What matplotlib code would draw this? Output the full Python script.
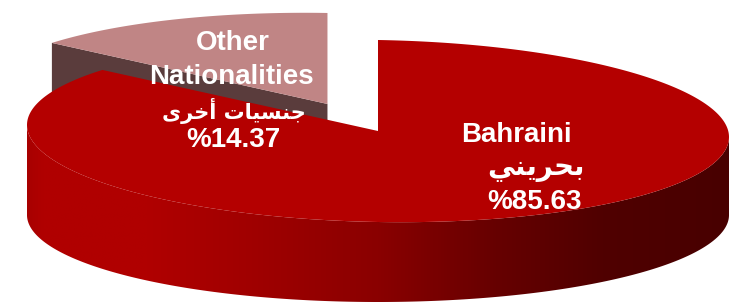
"""3D style pie of population share by nationality (Bahraini vs other)."""

from __future__ import annotations

import numpy as np
import matplotlib

matplotlib.use("Agg")
import matplotlib.pyplot as plt
from matplotlib.colors import LinearSegmentedColormap
from matplotlib.patches import Polygon

labels_en = ["Bahraini", "Other\nNationalities"]
labels_ar = ["بحريني", "جنسيات أخرى"]
shares = [85.63, 14.37]
explode = [0.0, 0.33]

# Arabic shaping: (isolated, final, initial, medial) presentation forms
FORMS = {
    "ا": ("\ufe8d", "\ufe8e", None, None),
    "أ": ("\ufe83", "\ufe84", None, None),
    "ب": ("\ufe8f", "\ufe90", "\ufe91", "\ufe92"),
    "ت": ("\ufe95", "\ufe96", "\ufe97", "\ufe98"),
    "ج": ("\ufe9d", "\ufe9e", "\ufe9f", "\ufea0"),
    "ح": ("\ufea1", "\ufea2", "\ufea3", "\ufea4"),
    "خ": ("\ufea5", "\ufea6", "\ufea7", "\ufea8"),
    "ر": ("\ufead", "\ufeae", None, None),
    "س": ("\ufeb1", "\ufeb2", "\ufeb3", "\ufeb4"),
    "ن": ("\ufee5", "\ufee6", "\ufee7", "\ufee8"),
    "ي": ("\ufef1", "\ufef2", "\ufef3", "\ufef4"),
    "ى": ("\ufeef", "\ufef0", None, None),
}


def shape_arabic(text: str) -> str:
    """Return visual-order text built from Arabic presentation forms."""
    out = []
    for i, ch in enumerate(text):
        if ch not in FORMS:
            out.append(ch)
            continue
        prev = text[i - 1] if i > 0 else ""
        nxt = text[i + 1] if i + 1 < len(text) else ""
        joins_prev = prev in FORMS and FORMS[prev][2] is not None
        joins_next = nxt in FORMS and FORMS[ch][2] is not None
        iso, fin, ini, med = FORMS[ch]
        if joins_prev and joins_next:
            out.append(med)
        elif joins_prev:
            out.append(fin)
        elif joins_next:
            out.append(ini)
        else:
            out.append(iso)
    return "".join(reversed(out))


# geometry in pixels (y grows downward)
CX, CY, RX, RY, SHEAR = 378, 131, 351, 91, 6
BOT_CY, BOT_RY = 215, 87


def top_rim(t, dx=0.0, dy=0.0):
    r = np.radians(t)
    return CX + RX * np.cos(r) + dx, CY - RY * np.sin(r) + SHEAR * np.cos(r) + dy


def bottom_rim(t, dx=0.0, dy=0.0):
    r = np.radians(t)
    return CX + RX * np.cos(r) + dx, BOT_CY - BOT_RY * np.sin(r) + dy


def main() -> None:
    fig = plt.figure(figsize=(7.31, 3.06), dpi=100)
    ax = fig.add_axes([0, 0, 1, 1])

    total = sum(shares)
    span_other = 360 * shares[1] / total
    a0, a1 = 90.0, 90.0 + span_other  # other slice
    mid = np.radians((a0 + a1) / 2)
    odx = RX * explode[1] * np.cos(mid)
    ody = -RY * explode[1] * np.sin(mid)

    # other slice: cut face then top face
    ex, ey = top_rim(a1, odx, ody)
    bx, by = bottom_rim(a1, odx, ody)
    c_top = (CX + odx, CY + ody)
    c_bot = (CX + odx, BOT_CY + ody)
    ax.add_patch(Polygon([c_top, (ex, ey), (bx, by), c_bot],
                         closed=True, fc="#5a3c3c", ec="none"))
    ts = np.linspace(a0, a1, 60)
    xs, ys = top_rim(ts, odx, ody)
    ax.add_patch(Polygon([c_top] + list(zip(xs, ys)), closed=True,
                         fc="#c08585", ec="none"))

    # bahraini slice: side wall with a left-to-right shade
    ts = np.linspace(180, 360, 300)
    tx, ty = top_rim(ts)
    bx, by = bottom_rim(ts[::-1])
    wall = Polygon(list(zip(tx, ty)) + list(zip(bx, by)), closed=True,
                   fc="none", ec="none")
    ax.add_patch(wall)
    shade = LinearSegmentedColormap.from_list("shade", [
        (0.00, "#a80000"), (0.02, "#b00000"), (0.17, "#b00000"),
        (0.32, "#a00000"), (0.50, "#8a0000"), (0.67, "#660000"),
        (0.82, "#500000"), (1.00, "#480000"),
    ])
    grad = np.linspace(0, 1, 512)[None, :]
    img = ax.imshow(grad, cmap=shade, aspect="auto",
                    extent=[CX - RX, CX + RX, 306, 100], interpolation="bilinear")
    img.set_clip_path(wall)

    ts = np.linspace(a1, 450, 400)
    xs, ys = top_rim(ts)
    ax.add_patch(Polygon([(CX, CY)] + list(zip(xs, ys)), closed=True,
                         fc="#b40000", ec="none"))

    ax.set_xlim(0, 731)
    ax.set_ylim(306, 0)
    ax.axis("off")

    latin = dict(family=["Liberation Sans", "DejaVu Sans"], weight="bold",
                 color="white", ha="center", va="center", fontsize=20)
    arab = dict(family=["DejaVu Sans"], weight="bold", color="white",
                ha="center", va="center")

    # labels
    ax.text(516, 135, labels_en[0], **latin)
    ax.text(536, 168, shape_arabic(labels_ar[0]), fontsize=20, **arab)
    ax.text(535, 202, f"%{shares[0]:.2f}", **latin)

    other_lines = labels_en[1].split("\n")
    ax.text(233, 43, other_lines[0], **latin)
    ax.text(231, 77, other_lines[1], **latin)
    ax.text(234, 111, shape_arabic(labels_ar[1]), fontsize=15, **arab)
    ax.text(233, 140, f"%{shares[1]:.2f}", **latin)

    fig.savefig("out.png", dpi=100)


if __name__ == "__main__":
    main()
